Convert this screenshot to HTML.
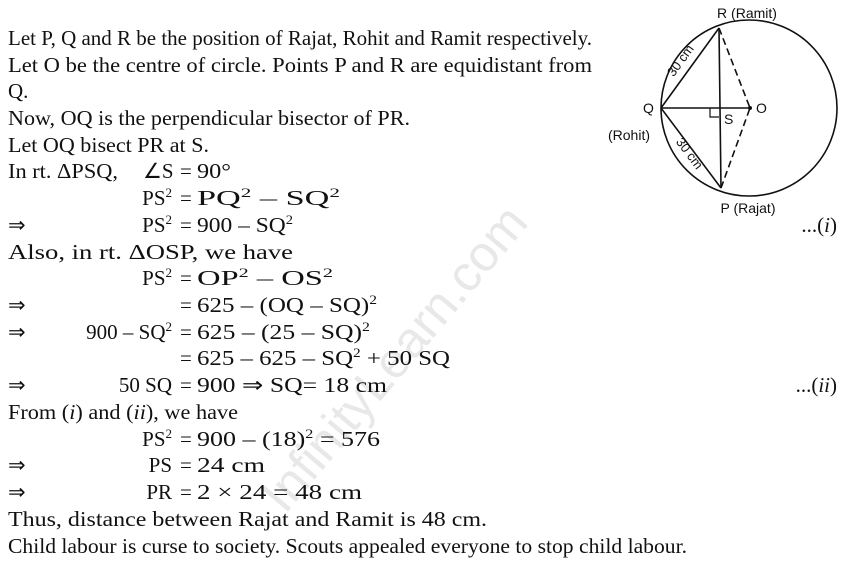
<!DOCTYPE html>
<html><head><meta charset="utf-8"><style>
html,body{margin:0;padding:0;background:#fff;}
svg{display:block;}
.t{font-family:"Liberation Serif",serif;font-size:21px;fill:#111;}
.s{font-family:"Liberation Sans",sans-serif;font-size:14px;fill:#111;}
.sup{font-size:13px;}
</style></head><body>
<svg width="862" height="570" viewBox="0 0 862 570" xmlns="http://www.w3.org/2000/svg">
<text x="0" y="0" transform="translate(285,515) rotate(-50)" font-family="Liberation Sans,sans-serif" font-size="50" fill="#e8e8e8">InfinityLearn.com</text>

<g class="t">
<text x="8" y="45" textLength="584" lengthAdjust="spacingAndGlyphs">Let P, Q and R be the position of Rajat, Rohit and Ramit respectively.</text>
<text x="8" y="72" textLength="584" lengthAdjust="spacingAndGlyphs">Let O be the centre of circle. Points P and R are equidistant from</text>
<text x="8" y="98">Q.</text>
<text x="8" y="125" textLength="402" lengthAdjust="spacingAndGlyphs">Now, OQ is the perpendicular bisector of PR.</text>
<text x="8" y="152" textLength="201" lengthAdjust="spacingAndGlyphs">Let OQ bisect PR at S.</text>
<text x="8" y="178" textLength="110" lengthAdjust="spacingAndGlyphs">In rt. ΔPSQ,</text>
<text x="143" y="178">∠S</text>
<text x="180" y="178">=</text><text x="197" y="178" textLength="34" lengthAdjust="spacingAndGlyphs">90°</text>

<text x="172" y="205" text-anchor="end">PS<tspan class="sup" dy="-8">2</tspan></text>
<text x="180" y="205">=</text><text x="197" y="205" textLength="143" lengthAdjust="spacingAndGlyphs">PQ<tspan class="sup" dy="-8">2</tspan><tspan dy="8"> – SQ</tspan><tspan class="sup" dy="-8">2</tspan></text>

<text x="8" y="232">⇒</text>
<text x="172" y="232" text-anchor="end">PS<tspan class="sup" dy="-8">2</tspan></text>
<text x="180" y="232">=</text><text x="197" y="232" textLength="96" lengthAdjust="spacingAndGlyphs">900 – SQ<tspan class="sup" dy="-8">2</tspan></text>
<text x="837" y="232" text-anchor="end">...(<tspan font-style="italic">i</tspan>)</text>

<text x="8" y="259" textLength="285" lengthAdjust="spacingAndGlyphs">Also, in rt. ΔOSP, we have</text>
<text x="172" y="285" text-anchor="end">PS<tspan class="sup" dy="-8">2</tspan></text>
<text x="180" y="285">=</text><text x="197" y="285" textLength="136" lengthAdjust="spacingAndGlyphs">OP<tspan class="sup" dy="-8">2</tspan><tspan dy="8"> – OS</tspan><tspan class="sup" dy="-8">2</tspan></text>

<text x="8" y="312">⇒</text>
<text x="180" y="312">=</text><text x="197" y="312" textLength="180" lengthAdjust="spacingAndGlyphs">625 – (OQ – SQ)<tspan class="sup" dy="-8">2</tspan></text>

<text x="8" y="339">⇒</text>
<text x="172" y="339" text-anchor="end">900 – SQ<tspan class="sup" dy="-8">2</tspan></text>
<text x="180" y="339">=</text><text x="197" y="339" textLength="173" lengthAdjust="spacingAndGlyphs">625 – (25 – SQ)<tspan class="sup" dy="-8">2</tspan></text>

<text x="180" y="365">=</text><text x="197" y="365" textLength="253" lengthAdjust="spacingAndGlyphs">625 – 625 – SQ<tspan class="sup" dy="-8">2</tspan><tspan dy="8"> + 50 SQ</tspan></text>

<text x="8" y="392">⇒</text>
<text x="172" y="392" text-anchor="end">50 SQ</text>
<text x="180" y="392">=</text><text x="197" y="392" textLength="190" lengthAdjust="spacingAndGlyphs">900 ⇒ SQ= 18 cm</text>
<text x="837" y="392" text-anchor="end">...(<tspan font-style="italic">ii</tspan>)</text>

<text x="8" y="419" textLength="230" lengthAdjust="spacingAndGlyphs">From (<tspan font-style="italic">i</tspan>) and (<tspan font-style="italic">ii</tspan>), we have</text>
<text x="172" y="446" text-anchor="end">PS<tspan class="sup" dy="-8">2</tspan></text>
<text x="180" y="446">=</text><text x="197" y="446" textLength="183" lengthAdjust="spacingAndGlyphs">900 – (18)<tspan class="sup" dy="-8">2</tspan><tspan dy="8"> = 576</tspan></text>

<text x="8" y="472">⇒</text>
<text x="172" y="472" text-anchor="end">PS</text>
<text x="180" y="472">=</text><text x="197" y="472" textLength="68" lengthAdjust="spacingAndGlyphs">24 cm</text>

<text x="8" y="499">⇒</text>
<text x="172" y="499" text-anchor="end">PR</text>
<text x="180" y="499">=</text><text x="197" y="499" textLength="165" lengthAdjust="spacingAndGlyphs">2 × 24 = 48 cm</text>

<text x="8" y="526" textLength="479" lengthAdjust="spacingAndGlyphs">Thus, distance between Rajat and Ramit is 48 cm.</text>
<text x="8" y="553" textLength="679" lengthAdjust="spacingAndGlyphs">Child labour is curse to society. Scouts appealed everyone to stop child labour.</text>
</g>

<g stroke="#111" fill="none" stroke-width="1.6">
<circle cx="749" cy="108" r="88"/>
<line x1="661" y1="108" x2="719" y2="28"/>
<line x1="661" y1="108" x2="721" y2="188"/>
<line x1="719" y1="28" x2="721" y2="188"/>
<line x1="661" y1="108" x2="750" y2="108"/>
<line x1="719" y1="28" x2="750" y2="108" stroke-dasharray="7,4"/>
<line x1="721" y1="188" x2="750" y2="108" stroke-dasharray="7,4"/>
<polyline points="710,108 710,117 719,117" stroke-width="1.2"/>
</g>
<circle cx="750" cy="108" r="2" fill="#111"/>
<g class="s">
<text x="747" y="18" text-anchor="middle">R (Ramit)</text>
<text x="748" y="213" text-anchor="middle">P (Rajat)</text>
<text x="643" y="113">Q</text>
<text x="608" y="140">(Rohit)</text>
<text x="756" y="113">O</text>
<text x="724" y="124">S</text>
<text x="0" y="0" font-size="13" text-anchor="middle" transform="translate(684,63) rotate(-54)">30 cm</text>
<text x="0" y="0" font-size="13" text-anchor="middle" transform="translate(686,156) rotate(53)">30 cm</text>
</g>
</svg>
</body></html>
